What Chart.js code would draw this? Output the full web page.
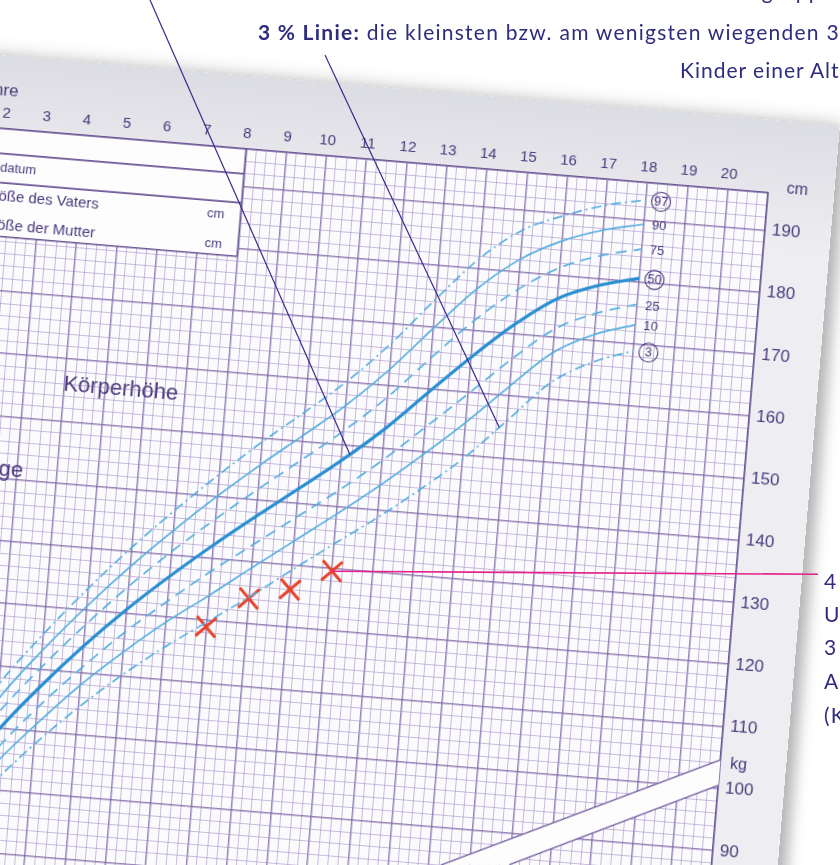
<!DOCTYPE html>
<html><head><meta charset="utf-8">
<script src="https://cdn.jsdelivr.net/npm/chart.js@4.4.1/dist/chart.umd.min.js"></script>
<style>
html,body{margin:0;padding:0;background:#fff;}
body{width:840px;height:865px;overflow:hidden;position:relative;}
#wrap{position:absolute;left:-133.4px;top:49.2px;width:972px;height:937px;transform-origin:60px 73px;transform:rotate(4.8deg);box-shadow:0 -6px 16px rgba(0,0,0,0.10),10px 4px 14px rgba(0,0,0,0.25);}
#c{display:block;}
#anno{position:absolute;left:0;top:0;}
.t{position:absolute;font-family:Lato,"Noto Sans",sans-serif;color:#2f2c7e;font-size:21px;letter-spacing:1.25px;white-space:nowrap;line-height:1;}
</style></head><body>
<div id="wrap"><canvas id="c" width="972" height="937"></canvas></div>
<svg id="anno" width="840" height="865">
  <line id="l1" stroke="#3a2a8c" stroke-width="1.2"/>
  <line id="l2" stroke="#3a2a8c" stroke-width="1.2"/>
  <line id="lp" stroke="#e3238b" stroke-width="1.6"/>
</svg>
<div class="t" style="left:700px;top:-20px">Altersgruppe</div>
<div class="t" style="left:258px;top:21px"><b>3 % Linie:</b> die kleinsten bzw. am wenigsten wiegenden 3</div>
<div class="t" style="left:680px;top:59px;letter-spacing:1px">Kinder einer Altersgruppe</div>
<div class="t" style="left:824px;top:570px">4 Messungen</div>
<div class="t" style="left:824px;top:603px">Unterhalb der</div>
<div class="t" style="left:824px;top:636px">3 % Linie:</div>
<div class="t" style="left:824px;top:670px">Abklärung</div>
<div class="t" style="left:824px;top:704px">(Kinderarzt)</div>
<script>
// ---- data ----
const ages = [0,0.5,1,1.5,2,3,4,5,6,7,8,9,10,11,12,13,14,15,16,17,18];
const p97 = [54.4,72.4,81.4,88.6,95.3,107.0,115.7,123.5,130.7,137.3,143.5,149.3,154.7,160.3,166.9,174.5,181.6,186.7,189.6,191.8,193.2];
const p90 = [53.3,71.0,79.9,86.9,93.3,104.5,113.0,120.6,127.6,134.0,140.0,145.6,150.9,156.3,162.6,169.8,176.7,182.0,185.5,187.8,189.3];
const p75 = [52.3,69.6,78.3,85.1,91.3,102.0,110.2,117.6,124.4,130.6,136.3,141.7,146.9,152.2,158.1,165.0,171.6,177.1,181.2,183.7,185.3];
const p50 = [51.0,68.0,76.5,83.0,89.0,99.0,107.0,114.2,120.7,126.6,132.1,137.3,142.3,147.4,153.0,159.4,165.7,171.5,176.2,178.9,180.6];
const p25 = [49.7,66.4,74.7,80.9,86.7,96.0,103.8,110.7,117.0,122.6,127.9,132.8,137.7,142.6,147.9,153.8,159.8,165.9,171.3,174.4,176.4];
const p10 = [48.8,65.1,73.3,79.3,84.8,93.7,101.1,107.9,113.8,119.2,124.0,129.0,133.9,138.8,143.9,149.4,155.2,161.5,167.5,171.0,173.1];
const p3  = [47.5,63.5,71.5,77.2,82.5,90.7,97.9,104.3,110.0,115.1,119.7,124.3,129.2,134.0,138.7,143.8,149.3,155.9,162.6,166.5,168.9];
const childAges = [8,9,10,11];
const childHeights = [119.0,124.1,126.1,129.6];
const percentileNames = ['97','90','75','50','25','10','3'];
const circledNames = ['97','50','3'];
const ageTickLabels = [1,2,3,4,5,6,7,8,9,10,11,12,13,14,15,16,17,18,19,20];
const cmTickLabels = [90,100,110,120,130,140,150,160,170,180,190];

// ---- styling ----
const INK = '#4a3a7c';
const CURVE = '#58aedf';
const CURVE_BOLD = '#2a8fd0';
const GRID_MINOR = 'rgba(165,145,198,0.6)';
const GRID_MAJOR = 'rgba(125,100,165,0.8)';
const ROT = 4.8*Math.PI/180, C = Math.cos(ROT), S = Math.sin(ROT);
const ORIGIN = {x:-75, y:122.2}, LOCAL = {x:60, y:73};
function toScreen(px,py){const u=px-LOCAL.x, v=py-LOCAL.y;return {x:ORIGIN.x+u*C-v*S, y:ORIGIN.y+u*S+v*C};}
function lerp(xs,ys,a){for(let i=1;i<xs.length;i++){if(a<=xs[i]){const t=(a-xs[i-1])/(xs[i]-xs[i-1]);return ys[i-1]+t*(ys[i]-ys[i-1]);}}return ys[ys.length-1];}

const series = [p97,p90,p75,p50,p25,p10,p3];
const dashes = [[10,4,2,4],[],[11,7],[],[11,7],[],[10,4,2,4]];
const datasets = series.map((s,i)=>({
  label: 'P'+percentileNames[i],
  data: ages.map((a,k)=>({x:a,y:s[k]})),
  borderColor: i===3?CURVE_BOLD:CURVE,
  borderWidth: i===3?3.2:1.7,
  borderDash: dashes[i],
  pointRadius: 0,
  cubicInterpolationMode: 'monotone',
  fill: false
}));
datasets.push({
  label: 'Kind',
  data: childAges.map((a,k)=>({x:a,y:childHeights[k]})),
  showLine: false,
  pointStyle: 'crossRot',
  pointRadius: 14,
  pointBorderWidth: 3,
  pointBorderColor: '#e8432b',
  pointBackgroundColor: '#e8432b'
});

const paperPlugin = {
  id:'paper',
  beforeDraw(chart){
    const {ctx, chartArea:a, width, height} = chart;
    ctx.save();
    const g = ctx.createLinearGradient(0,0,0,a.top+60);
    g.addColorStop(0,'#dcdce3'); g.addColorStop(1,'#eeeef2');
    ctx.fillStyle = g; ctx.fillRect(0,0,width,height);
    ctx.fillStyle = '#fbfbfd'; ctx.fillRect(a.left,a.top,a.right-a.left,a.bottom-a.top);
    ctx.restore();
  }
};

const decorPlugin = {
  id:'decor',
  beforeDatasetsDraw(chart){
    const {ctx, chartArea:a, scales:{x,y}} = chart;
    const X = v=>x.getPixelForValue(v), Y = v=>y.getPixelForValue(v);
    ctx.save();
    // form box
    ctx.fillStyle = '#fdfdfe';
    ctx.fillRect(a.left, Y(196), X(8)-a.left, Y(178.7)-Y(196));
    ctx.strokeStyle = '#6a5694'; ctx.lineWidth = 1.6;
    ctx.beginPath();
    [196,192,187.3,178.7].forEach(c=>{ctx.moveTo(a.left,Y(c)); ctx.lineTo(X(8),Y(c));});
    ctx.moveTo(X(8),Y(196)); ctx.lineTo(X(8),Y(178.7));
    ctx.stroke();
    ctx.fillStyle = INK;
    ctx.textBaseline = 'middle';
    ctx.font = '13px "Liberation Sans", Arial, sans-serif';
    ctx.textAlign = 'right';
    ctx.fillText('Geburtsdatum', X(2.85), Y(189.6));
    ctx.font = '15px "Liberation Sans", Arial, sans-serif';
    ctx.fillText('Größe des Vaters', X(4.47), Y(185.1));
    ctx.fillText('Größe der Mutter', X(4.44), Y(180.4));
    ctx.font = '13px "Liberation Sans", Arial, sans-serif';
    ctx.fillText('cm', X(7.6), Y(185.1));
    ctx.fillText('cm', X(7.6), Y(180.4));
    // section titles
    ctx.font = '22px "Liberation Sans", Arial, sans-serif';
    ctx.textAlign = 'left';
    ctx.fillText('Körperhöhe', X(3.97), Y(155.8));
    ctx.textAlign = 'right';
    ctx.fillText('Länge', X(3.15), Y(141.4));
    // weight band of the lower chart
    ctx.beginPath();
    ctx.moveTo(X(21),Y(104.6)); ctx.lineTo(X(14.3),Y(84));
    ctx.lineTo(X(16),Y(85)); ctx.lineTo(X(21),Y(100.5)); ctx.closePath();
    ctx.fillStyle = '#fdfdfe'; ctx.fill();
    ctx.strokeStyle = '#7a64a4'; ctx.lineWidth = 1.5;
    ctx.beginPath();
    ctx.moveTo(X(21),Y(104.6)); ctx.lineTo(X(14.3),Y(84));
    ctx.moveTo(X(16),Y(85)); ctx.lineTo(X(21),Y(100.5));
    ctx.stroke();
    ctx.restore();
  },
  afterDatasetsDraw(chart){
    const {ctx, scales:{x,y}} = chart;
    const X = v=>x.getPixelForValue(v), Y = v=>y.getPixelForValue(v);
    ctx.save();
    ctx.fillStyle = INK; ctx.strokeStyle = INK; ctx.lineWidth = 1.1;
    ctx.textAlign = 'center'; ctx.textBaseline = 'middle';
    ctx.font = '13px "Liberation Sans", Arial, sans-serif';
    series.forEach((s,i)=>{
      const name = percentileNames[i];
      const px = X(ages[ages.length-1]) + 15, py = Y(s[s.length-1]);
      ctx.fillText(name, px, py+1);
      if (circledNames.includes(name)) { ctx.beginPath(); ctx.arc(px, py+0.5, 9.5, 0, Math.PI*2); ctx.stroke(); }
    });
    // outer labels
    ctx.font = '16px "Liberation Sans", Arial, sans-serif';
    ctx.textAlign = 'left';
    ctx.fillText('cm', X(21.45), Y(196.9));
    ctx.fillText('kg', X(21.25), Y(104.0));
    ctx.font = '17px "Liberation Sans", Arial, sans-serif';
    ctx.textAlign = 'right';
    ctx.fillText('Jahre', X(2.25), Y(202.1));
    ctx.restore();
    // leader lines (screen overlay) ending on the data
    const e1 = toScreen(X(11.2), Y(lerp(ages,p50,11.2)));
    const e2 = toScreen(X(14.84), Y(lerp(ages,p3,14.84)));
    const k = childAges.length-1;
    const e3 = toScreen(X(childAges[k]), Y(childHeights[k]));
    const set=(id,x1,y1,x2,y2)=>{const l=document.getElementById(id);l.setAttribute('x1',x1);l.setAttribute('y1',y1);l.setAttribute('x2',x2);l.setAttribute('y2',y2);};
    set('l1',150,0,e1.x,e1.y);
    set('l2',325,55,e2.x,e2.y);
    set('lp',e3.x,e3.y,818,e3.y+3);
  }
};

document.getElementById('wrap').style.left = (ORIGIN.x - LOCAL.x) + 'px';

new Chart(document.getElementById('c'), {
  type: 'line',
  data: {datasets},
  plugins: [paperPlugin, decorPlugin],
  options: {
    responsive: false,
    animation: false,
    layout: {autoPadding:false, padding:{left:60,top:0,right:0,bottom:0}},
    plugins: {legend:{display:false}, tooltip:{enabled:false}},
    scales: {
      x: {
        type:'linear', position:'top', min:0, max:21,
        afterFit: s=>{ s.height = 73; },
        grid: {
          drawTicks:false,
          color: c=> (c.tick && Number.isInteger(c.tick.value)) ? GRID_MAJOR : GRID_MINOR,
          lineWidth: c=> (c.tick && Number.isInteger(c.tick.value)) ? 1.5 : 1
        },
        border: {color:'#6a5694', width:1.6},
        ticks: {
          stepSize:0.25, autoSkip:false, maxRotation:0, padding:6, color:INK,
          font:{family:'"Liberation Sans", Arial, sans-serif', size:15},
          callback: v => ageTickLabels.includes(v) ? String(v) : ''
        }
      },
      y: {
        type:'linear', position:'right', min:60, max:196,
        afterFit: s=>{ s.width = 66; },
        grid: {
          drawTicks:false,
          color: c=> (c.tick && c.tick.value % 10 === 0) ? GRID_MAJOR : GRID_MINOR,
          lineWidth: c=> (c.tick && c.tick.value % 10 === 0) ? 1.5 : 1
        },
        border: {color:'#6a5694', width:1.6},
        ticks: {
          stepSize:2, autoSkip:false, padding:7, color:INK,
          font:{family:'"Liberation Sans", Arial, sans-serif', size:17},
          callback: v => cmTickLabels.includes(v) ? String(v) : ''
        }
      }
    }
  }
});
</script>
</body></html>
